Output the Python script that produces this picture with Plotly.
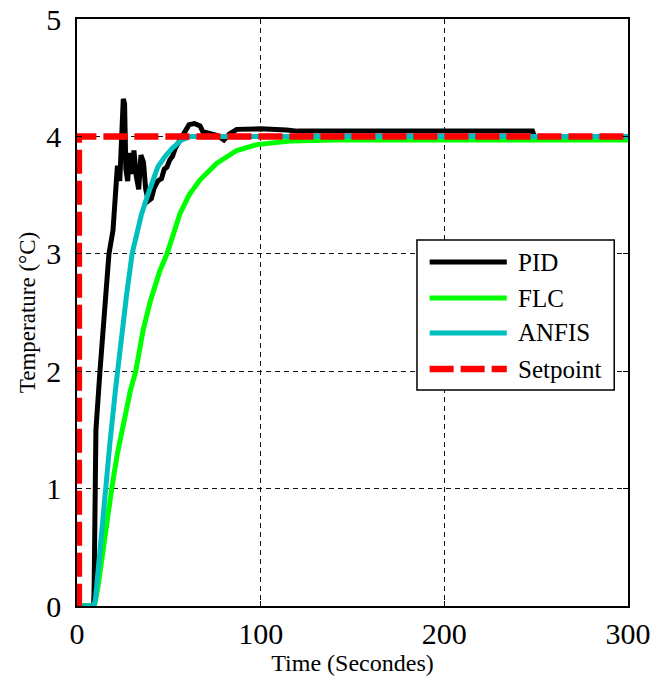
import plotly.graph_objects as go

# ---- data ----
pid_t = [0, 9.0, 9.3, 10.3, 12.5, 15.0, 17.4, 19.6, 21.0, 22.0, 23.3, 24.3, 25.2, 25.9, 26.6,
         27.6, 28.6, 29.8, 31.0, 32.3, 33.6, 34.8, 36.2, 37.4, 38.8, 40.5, 42.0, 44.0, 46.0,
         47.5, 49.0, 50.5, 52.0, 53.5, 55.0, 57.0, 59.0, 61.0, 64.0, 67.0, 68.5, 72.0, 76.0,
         80.0, 83.0, 87.0, 100.0, 114.0, 120.0, 248.0, 249.0, 300.0]
pid_y = [0, 0, 0.12, 1.5, 2.0, 2.5, 3.0, 3.2, 3.5, 3.75, 3.62, 3.9, 4.32, 4.28, 3.72,
         3.62, 3.86, 3.68, 3.88, 3.66, 3.55, 3.84, 3.78, 3.55, 3.45, 3.47, 3.56, 3.62, 3.64,
         3.72, 3.74, 3.80, 3.83, 3.90, 3.94, 4.00, 4.06, 4.10, 4.11, 4.09, 4.04, 4.03, 4.01,
         3.97, 4.02, 4.06, 4.065, 4.055, 4.045, 4.045, 4.0, 4.0]

flc_t = [0, 9.5, 11.4, 14.0, 16.5, 18.9, 22.0, 25.6, 29.0, 32.0, 36.0, 40.0, 45.0, 49.0,
         53.0, 56.0, 61.0, 67.0, 76.0, 87.0, 98.0, 116.0, 140.0, 300.0]
flc_y = [0, 0, 0.16, 0.48, 0.75, 1.0, 1.3, 1.58, 1.83, 2.0, 2.35, 2.6, 2.85, 3.0,
         3.2, 3.34, 3.5, 3.63, 3.77, 3.88, 3.93, 3.96, 3.97, 3.97]

anfis_t = [0, 9.0, 10.0, 12.0, 15.0, 18.0, 21.0, 24.0, 27.0, 30.0, 32.7, 35.0, 38.5, 44.0,
           48.0, 52.0, 57.0, 62.0, 300.0]
anfis_y = [0, 0, 0.05, 0.4, 0.95, 1.4, 1.85, 2.3, 2.65, 3.0, 3.2, 3.33, 3.5, 3.74,
           3.83, 3.9, 3.97, 4.0, 4.0]

sp_t = [0, 1, 1, 300]
sp_y = [0, 0, 4, 4]

names = ["PID", "FLC", "ANFIS", "Setpoint"]
colors = ["#000000", "#00FF00", "#00BFBF", "#FF0000"]

x_ticks = [0, 100, 200, 300]
y_ticks = [0, 1, 2, 3, 4, 5]

FONT = "Liberation Serif"

fig = go.Figure()
series = [(pid_t, pid_y), (flc_t, flc_y), (anfis_t, anfis_y), (sp_t, sp_y)]
for (t, y), n, c in zip(series, names, colors):
    dash = "24px,7px" if n == "Setpoint" else "solid"
    w = 6.5 if n == "Setpoint" else 5
    fig.add_trace(go.Scatter(x=t, y=y, mode="lines", name=n,
                             line=dict(color=c, width=w, dash=dash),
                             showlegend=False))

# ---- legend box (drawn like the MATLAB legend) ----
box = dict(x0=0.617, x1=0.975, y0=0.368, y1=0.6235)
fig.add_shape(type="rect", xref="paper", yref="paper", **box,
              line=dict(color="#000000", width=1.5), fillcolor="white", layer="above")
row_y = [0.5860, 0.5247, 0.4651, 0.4037]
for n, c, ry in zip(names, colors, row_y):
    dash = "24px,7px" if n == "Setpoint" else "solid"
    w = 6.5 if n == "Setpoint" else 5
    fig.add_shape(type="line", xref="paper", yref="paper", x0=0.640, x1=0.780, y0=ry, y1=ry,
                  line=dict(color=c, width=w, dash=dash), layer="above")
    fig.add_annotation(xref="paper", yref="paper", x=0.797, y=ry, text=n, showarrow=False,
                       xanchor="left", yanchor="middle",
                       font=dict(family=FONT, size=25, color="#000000"))

axis_common = dict(showline=True, linecolor="#000000", linewidth=1.5, mirror="allticks",
                   ticks="inside", ticklen=5, tickcolor="#000000",
                   showgrid=True, gridcolor="#111111", gridwidth=1, griddash="5px,4px",
                   zeroline=False, ticklabeloverflow="allow",
                   tickfont=dict(family=FONT, size=30, color="#000000"))

fig.update_xaxes(range=[0, 300], tickvals=x_ticks, ticktext=[str(v) for v in x_ticks],
                 title=dict(text="Time (Secondes)", font=dict(family=FONT, size=24, color="#000000"),
                            standoff=0),
                 ticklabelstandoff=0, **axis_common)
fig.update_yaxes(range=[0, 5], tickvals=y_ticks, ticktext=[str(v) for v in y_ticks],
                 title=dict(text="Temperature (°C)", font=dict(family=FONT, size=23, color="#000000"),
                            standoff=4),
                 ticklabelstandoff=8, **axis_common)

fig.update_layout(width=654, height=682, plot_bgcolor="white", paper_bgcolor="white",
                  margin=dict(l=77, r=26, t=19, b=76, autoexpand=False),
                  font=dict(family=FONT, color="#000000"))

# remove the browser's default 8px body margin so the figure fills the window exactly
fig.write_html("out.html", config={"displayModeBar": False},
               post_script="document.body.style.margin='0px';document.body.style.overflow='hidden';")
